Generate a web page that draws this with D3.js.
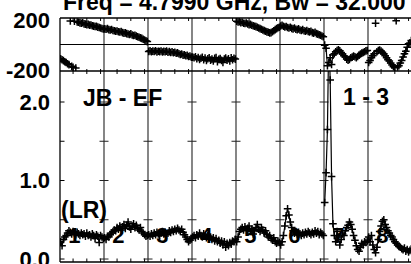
<!DOCTYPE html>
<html>
<head>
<meta charset="utf-8">
<script src="https://cdn.jsdelivr.net/npm/d3@7"></script>
<style>
  body { margin: 0; background: #fff; }
  svg { display: block; }
  text { font-family: "Liberation Sans", Arial, sans-serif; font-weight: bold; fill: #000; }
</style>
</head>
<body>
<div id="chart"></div>
<script>
// IF numbers (8 IFs x 32 channels)
var ifs = ["1", "2", "3", "4", "5", "6", "7", "8"];
var nchan = 32;

// amplitude per IF, channel 1..32
var amp1 = [0.22,0.17,0.25,0.28,0.30,0.33,0.36,0.34,0.32,0.35,0.33,0.31,0.34,0.32,0.30,0.33,0.31,0.32,0.29,0.33,0.30,0.31,0.28,0.32,0.30,0.26,0.31,0.29,0.21,0.30,0.28,0.26];
var amp2 = [0.27,0.25,0.29,0.28,0.31,0.33,0.35,0.37,0.36,0.40,0.38,0.42,0.37,0.41,0.44,0.39,0.43,0.47,0.41,0.38,0.42,0.45,0.40,0.43,0.39,0.37,0.40,0.35,0.33,0.31,0.29,0.30];
var amp3 = [0.31,0.29,0.32,0.30,0.33,0.31,0.34,0.32,0.30,0.33,0.35,0.32,0.34,0.31,0.33,0.36,0.34,0.37,0.35,0.38,0.36,0.39,0.37,0.35,0.38,0.34,0.31,0.28,0.25,0.22,0.24,0.26];
var amp4 = [0.28,0.30,0.27,0.31,0.29,0.33,0.30,0.28,0.32,0.29,0.27,0.30,0.26,0.28,0.25,0.27,0.23,0.26,0.22,0.24,0.20,0.23,0.18,0.22,0.15,0.20,0.17,0.21,0.19,0.23,0.22,0.25];
var amp5 = [0.22,0.28,0.35,0.38,0.40,0.37,0.41,0.36,0.39,0.42,0.35,0.38,0.32,0.36,0.40,0.44,0.38,0.35,0.40,0.37,0.33,0.36,0.31,0.28,0.30,0.26,0.24,0.27,0.22,0.20,0.23,0.21];
var amp6 = [0.18,0.22,0.30,0.42,0.55,0.64,0.56,0.47,0.40,0.36,0.33,0.35,0.31,0.34,0.32,0.30,0.33,0.31,0.34,0.32,0.35,0.33,0.31,0.34,0.32,0.36,0.33,0.35,0.31,0.34,0.32,0.30];
var amp7 = [0.72,1.10,1.65,2.90,2.28,1.05,0.45,0.30,0.22,0.35,0.28,0.18,0.25,0.32,0.30,0.36,0.40,0.43,0.47,0.44,0.38,0.30,0.24,0.17,0.12,0.10,0.15,0.20,0.18,0.22,0.21,0.23];
var amp8 = [0.28,0.22,0.30,0.18,0.12,0.08,0.15,0.25,0.35,0.42,0.48,0.50,0.44,0.40,0.36,0.33,0.30,0.28,0.25,0.22,0.20,0.18,0.16,0.15,0.13,0.12,0.14,0.10,0.12,0.09,0.11,0.13];

// phase (degrees) per IF
var ph1 = [-108,-115,-122,-130,-136,-145,-152,178,-165,-172,175,-178,170,168,163,160,164,156,154,150,152,146,147,141,139,136,137,131,128,124,121,117];
var ph2 = [118,115,120,112,110,113,106,104,100,102,96,94,97,90,86,88,82,79,76,80,72,68,70,63,58,55,50,46,40,34,28,22];
var ph3 = [-52,-48,-55,-50,-53,-47,-56,-51,-54,-49,-57,-52,-55,-50,-58,-54,-60,-56,-62,-59,-66,-63,-70,-75,-72,-80,-78,-85,-82,-90,-88,-95];
var ph4 = [-95,-100,-92,-108,-98,-112,-104,-96,-115,-102,-120,-108,-100,-118,-110,-125,-105,-98,-130,-112,-106,-120,-135,-110,-102,-118,-108,-125,-100,-115,-104,-110];
var ph5 = [175,170,172,165,168,160,158,162,155,150,152,145,142,138,135,130,125,120,115,110,105,100,95,92,88,90,96,104,112,120,126,130];
var ph6 = [140,145,138,132,136,128,125,130,122,118,124,115,112,118,110,106,112,104,100,106,98,95,100,90,86,92,82,78,74,70,64,58];
var ph7 = [-5,-28,-160,-135,-100,-150,-80,-70,-55,-45,-40,-48,-60,-72,-85,-95,-110,-118,-112,-100,-95,-88,-92,-100,-90,-80,-72,-65,-60,-55,-48,-45];
var ph8 = [-135,-120,-100,-85,-70,160,-55,-45,-42,-50,-58,-70,-85,-100,-115,-125,-140,-155,-168,-175,180,-170,-160,-140,-120,-95,-70,-50,-20,5,12,30];

var ampTicks = [0, 1, 2];
var ampMinor = [0, 0.5, 1, 1.5, 2];
var phTicks = [200, -200];
var chanTicks = [10, 20, 30];

var title = "Freq = 4.7990 GHz, Bw = 32.000";
var baseline = "JB - EF";
var stokes = "(LR)";
var srcLabel = "1 - 3";

var amps = [amp1, amp2, amp3, amp4, amp5, amp6, amp7, amp8];
var phs = [ph1, ph2, ph3, ph4, ph5, ph6, ph7, ph8];

var width = 411, height = 264;
var left = 60, right = 412, phTop = 18, phBot = 71, ampBot = 262;

var svg = d3.select("#chart").append("svg")
    .attr("width", width)
    .attr("height", height);

var x = d3.scaleLinear()
    .domain([0.5, ifs.length * nchan + 0.5])
    .range([left, right]);

var yPh = d3.scaleLinear()
    .domain([-200, 200])
    .range([phBot, phTop]);

var yAmp = d3.scaleLinear()
    .domain([-0.038, 2.395])
    .range([ampBot, phBot]);

function chan(k, i) { return k * nchan + i + 1; }

var defs = svg.append("defs");
defs.append("clipPath").attr("id", "clipPh").append("rect")
    .attr("x", left).attr("y", phTop).attr("width", right - left).attr("height", phBot - phTop);
defs.append("clipPath").attr("id", "clipAmp").append("rect")
    .attr("x", left).attr("y", phBot).attr("width", right - left).attr("height", ampBot - phBot);

// title (cut by the top edge, as in the plot)
svg.append("text")
    .attr("x", 63).attr("y", 10)
    .style("font-size", "23px")
    .text(title);

// frame + grid
var g = svg.append("g");
var bounds = d3.range(1, ifs.length).map(function(k) { return x(k * nchan + 0.5); });

g.selectAll(".sep")
    .data(bounds)
    .enter().append("line")
    .attr("x1", function(d) { return d; }).attr("x2", function(d) { return d; })
    .attr("y1", phTop).attr("y2", ampBot)
    .attr("stroke", "#444").attr("stroke-width", 1.3);

g.append("line").attr("x1", left).attr("x2", right).attr("y1", yPh(0)).attr("y2", yPh(0))
    .attr("stroke", "#000").attr("stroke-width", 1);

[phTop, phBot, ampBot].forEach(function(yy) {
  g.append("line").attr("x1", left).attr("x2", right).attr("y1", yy).attr("y2", yy)
      .attr("stroke", "#000").attr("stroke-width", 1.3);
});
g.append("line").attr("x1", left).attr("x2", left).attr("y1", phTop).attr("y2", ampBot)
    .attr("stroke", "#000").attr("stroke-width", 1.3);

// channel ticks
var cticks = [];
ifs.forEach(function(f, k) { chanTicks.forEach(function(c) { cticks.push(k * nchan + c); }); });

g.selectAll(".ctTop").data(cticks).enter().append("line")
    .attr("x1", function(d) { return x(d); }).attr("x2", function(d) { return x(d); })
    .attr("y1", phTop).attr("y2", phTop + 3)
    .attr("stroke", "#000");
g.selectAll(".ctMid").data(cticks).enter().append("line")
    .attr("x1", function(d) { return x(d); }).attr("x2", function(d) { return x(d); })
    .attr("y1", phBot - 2).attr("y2", phBot + 3)
    .attr("stroke", "#000");
g.selectAll(".ctBot").data(cticks).enter().append("line")
    .attr("x1", function(d) { return x(d); }).attr("x2", function(d) { return x(d); })
    .attr("y1", ampBot - 3.5).attr("y2", ampBot)
    .attr("stroke", "#000");

// amplitude ticks on each separator
var sepTicks = [];
bounds.forEach(function(bx) { ampMinor.forEach(function(v) { sepTicks.push({x: bx, v: v}); }); });
g.selectAll(".st").data(sepTicks).enter().append("line")
    .attr("x1", function(d) { return d.x - 4.5; }).attr("x2", function(d) { return d.x + 4.5; })
    .attr("y1", function(d) { return yAmp(d.v); }).attr("y2", function(d) { return yAmp(d.v); })
    .attr("stroke", "#222");
g.selectAll(".lt").data(ampMinor).enter().append("line")
    .attr("x1", left).attr("x2", left + 4.5)
    .attr("y1", function(d) { return yAmp(d); }).attr("y2", function(d) { return yAmp(d); })
    .attr("stroke", "#000");

// axis labels
var axAmp = svg.append("g")
    .attr("transform", "translate(" + left + ",0)")
    .call(d3.axisLeft(yAmp).tickValues(ampTicks).tickFormat(function(d) { return d.toFixed(1); }).tickSize(0).tickPadding(10));
var axPh = svg.append("g")
    .attr("transform", "translate(" + left + ",0)")
    .call(d3.axisLeft(yPh).tickValues(phTicks).tickFormat(function(d) { return String(d); }).tickSize(0).tickPadding(10));
[axAmp, axPh].forEach(function(a) {
  a.select(".domain").remove();
  a.selectAll("text").style("font-size", "22px").style("font-family", "Liberation Sans, Arial, sans-serif");
});
axPh.selectAll("text").attr("dy", function(d) { return d > 0 ? "0.42em" : "0.3em"; });

// labels in plot
svg.append("text").attr("x", 83).attr("y", 106).style("font-size", "23px").text(baseline);
svg.append("text").attr("x", 343).attr("y", 105).style("font-size", "23px").text(srcLabel);
svg.append("text").attr("x", 61).attr("y", 218).style("font-size", "23px").text(stokes);

svg.selectAll(".ifnum").data(ifs).enter().append("text")
    .attr("x", function(d, k) { return x(k * nchan + 11); })
    .attr("y", 243)
    .attr("text-anchor", "middle")
    .style("font-size", "22px")
    .text(function(d) { return d; });

// data
function plus(sel, size) {
  return sel.attr("d", function(d) {
    return "M" + (d[0] - size) + "," + d[1] + "h" + (2 * size) + "M" + d[0] + "," + (d[1] - size) + "v" + (2 * size);
  });
}

var gAmp = svg.append("g").attr("clip-path", "url(#clipAmp)");
var gPh = svg.append("g").attr("clip-path", "url(#clipPh)");

amps.forEach(function(arr, k) {
  var pts = arr.map(function(v, i) { return [x(chan(k, i)), yAmp(v)]; });
  gAmp.append("path")
      .attr("d", d3.line()(pts))
      .attr("fill", "none").attr("stroke", "#000").attr("stroke-width", 1.2);
  plus(gAmp.selectAll(null).data(pts).enter().append("path"), 3.8)
      .attr("fill", "none").attr("stroke", "#000").attr("stroke-width", 1.5);
});

phs.forEach(function(arr, k) {
  var pts = arr.map(function(v, i) { return [x(chan(k, i)), yPh(v), v]; });
  var segs = [];
  for (var i = 1; i < pts.length; i++) {
    if (Math.abs(pts[i][2] - pts[i - 1][2]) < 180) segs.push([pts[i - 1], pts[i]]);
  }
  gPh.selectAll(null).data(segs).enter().append("line")
      .attr("x1", function(d) { return d[0][0]; }).attr("y1", function(d) { return d[0][1]; })
      .attr("x2", function(d) { return d[1][0]; }).attr("y2", function(d) { return d[1][1]; })
      .attr("stroke", "#000").attr("stroke-width", 1.2);
  plus(gPh.selectAll(null).data(pts).enter().append("path"), 3.8)
      .attr("fill", "none").attr("stroke", "#000").attr("stroke-width", 1.5);
});
</script>
</body>
</html>
